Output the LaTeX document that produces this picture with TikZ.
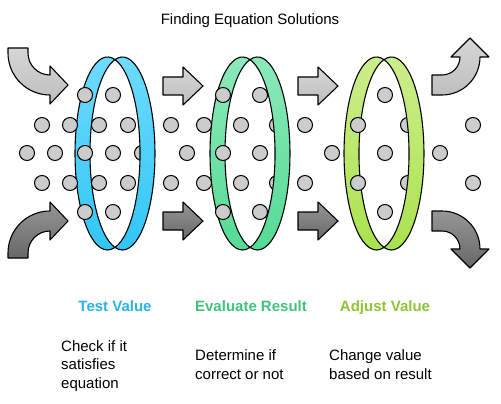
\documentclass[tikz,border=0pt]{standalone}
\usepackage{fontspec}
\setmainfont{Liberation Sans}
\definecolor{bluetop}{RGB}{112,220,255}
\definecolor{bluebot}{RGB}{48,198,246}
\definecolor{greentop}{RGB}{142,234,188}
\definecolor{greenbot}{RGB}{84,218,148}
\definecolor{limetop}{RGB}{206,238,142}
\definecolor{limebot}{RGB}{170,226,78}
\definecolor{bluetext}{RGB}{40,180,228}
\definecolor{greentext}{RGB}{64,196,122}
\definecolor{limetext}{RGB}{142,196,52}
\definecolor{dotgray}{RGB}{204,204,204}
\definecolor{lighttop}{RGB}{214,214,214}
\definecolor{lightbot}{RGB}{190,190,190}
\definecolor{darktop}{RGB}{150,150,150}
\definecolor{darkbot}{RGB}{104,104,104}

\begin{document}
\begin{tikzpicture}[x=1pt,y=-1pt,
  band/.style={draw=black,line width=1.1pt,line join=round},
  dot/.style={draw=black,line width=1pt,fill=dotgray},
  lightarrow/.style={draw=black,line width=1.1pt,line join=round,top color=lighttop,bottom color=lightbot},
  darkarrow/.style={draw=black,line width=1.1pt,line join=round,top color=darktop,bottom color=darkbot},
  steptitle/.style={font=\fontsize{15}{18}\selectfont\bfseries,anchor=base},
  steptext/.style={font=\fontsize{15}{18.5}\selectfont,anchor=north west,align=left,inner sep=0pt}]
\useasboundingbox (0,0) rectangle (501,404);
\node[font=\fontsize{15}{18}\selectfont,anchor=base] (title) at (250,25) {Finding Equation Solutions};
\draw[lightarrow] (8,48) -- (8,53) arc[start angle=180,end angle=90,radius=42] -- (50,104) -- (68,85) -- (50,66) -- (50,75) arc[start angle=90,end angle=180,radius=22] -- (28,48) -- cycle;
\draw[darkarrow] (8,258) -- (8,253) arc[start angle=180,end angle=270,radius=42] -- (50,202) -- (68,221) -- (50,240) -- (50,231) arc[start angle=270,end angle=180,radius=22] -- (28,258) -- cycle;
\draw[lightarrow] (432,95) -- (442,95) arc[start angle=90,end angle=0,radius=38] -- (489,57) -- (470,38) -- (451,57) -- (460,57) arc[start angle=0,end angle=90,radius=18] -- (432,75) -- cycle;
\draw[darkarrow] (432,211) -- (442,211) arc[start angle=270,end angle=360,radius=38] -- (489,249) -- (470,268) -- (451,249) -- (460,249) arc[start angle=360,end angle=270,radius=18] -- (432,231) -- cycle;
\foreach \ax in {163,298} {
  \draw[lightarrow] (\ax,77) -- (\ax+20,77) -- (\ax+20,67) -- (\ax+40,86) -- (\ax+20,105) -- (\ax+20,95) -- (\ax,95) -- cycle;
  \draw[darkarrow] (\ax,212) -- (\ax+20,212) -- (\ax+20,202) -- (\ax+40,221) -- (\ax+20,240) -- (\ax+20,230) -- (\ax,230) -- cycle;
}
\foreach \cx/\ct/\cb in {115/bluetop/bluebot,250/greentop/greenbot,384/limetop/limebot}
  \draw[band,top color=\ct,bottom color=\cb] (\cx,59.6) arc[start angle=-76.7,end angle=-283.3,x radius=32.5,y radius=96.5] arc[start angle=103.3,end angle=256.7,x radius=32.5,y radius=96.5] -- cycle;
\foreach \dx/\dy in {85/95,113/95,223/95,260/95,385/95,
  42/125,70/125,99/125,128/125,171/125,204/125,241/125,277/125,305/125,358/125,408/125,473/125,
  27/153,55/153,85/153,113/153,142/153,187/153,223/153,260/153,332/153,385/153,440/153,
  42/183,70/183,99/183,128/183,171/183,204/183,241/183,277/183,305/183,358/183,408/183,473/183,
  85/212,113/212,223/212,260/212,385/212}
  \draw[dot] (\dx,\dy) circle[radius=7.5];
\foreach \cx/\ct/\cb in {115/bluetop/bluebot,250/greentop/greenbot,384/limetop/limebot}
  \draw[band,top color=\ct,bottom color=\cb] (\cx,59.6) arc[start angle=-103.3,end angle=103.3,x radius=32.5,y radius=96.5] arc[start angle=76.7,end angle=-76.7,x radius=32.5,y radius=96.5] -- cycle;
\node[steptitle,text=bluetext] (testlabel) at (115,311.5) {Test Value};
\node[steptitle,text=greentext] (evallabel) at (251,311.5) {Evaluate Result};
\node[steptitle,text=limetext] (adjustlabel) at (385,311.5) {Adjust Value};
\node[steptext] (testtext) at (61,340) {Check if it\\satisfies\\equation};
\node[steptext] (evaltext) at (195,349.5) {Determine if\\correct or not};
\node[steptext] (adjusttext) at (329,349.5) {Change value\\based on result};
\end{tikzpicture}
\end{document}
